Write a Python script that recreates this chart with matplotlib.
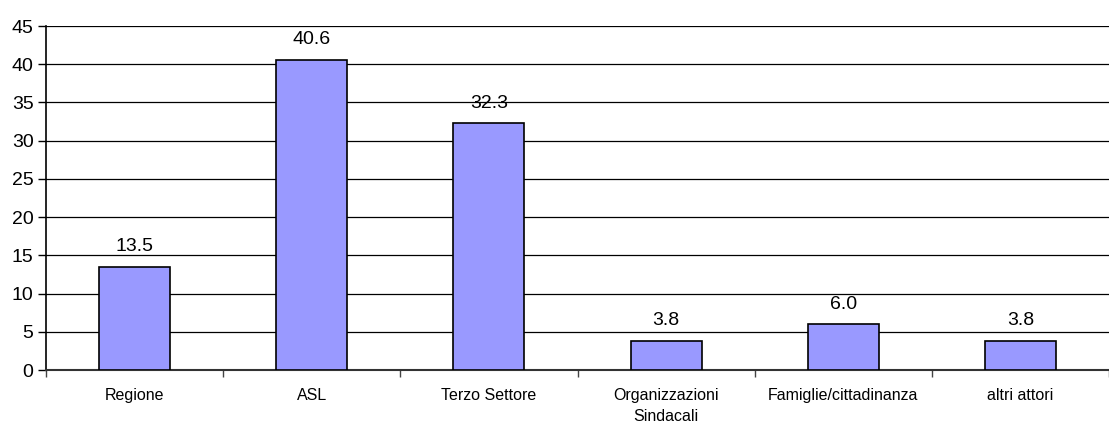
#!/usr/bin/env python3

import matplotlib.pyplot as plt
import numpy as np

plt.rcParams['font.family'] = ['Liberation Sans', 'DejaVu Sans']

categories = ['Regione', 'ASL', 'Terzo Settore', 'Organizzazioni\nSindacali',
              'Famiglie/cittadinanza', 'altri attori']
values = [13.5, 40.6, 32.3, 3.8, 6.0, 3.8]
yticks = [0, 5, 10, 15, 20, 25, 30, 35, 40, 45]

fig = plt.figure(figsize=(11.09, 4.30), dpi=100)
ax = fig.add_axes([0.0415, 0.1395, 0.9585, 0.80])

x = np.arange(len(categories))
ax.bar(x, values, width=0.4, color='#9999FF', edgecolor='black', linewidth=1.2, zorder=3)

for xi, v in zip(x, values):
    ax.text(xi, v + 1.5, f'{v:.1f}', ha='center', va='bottom', fontsize=14, zorder=4)

ax.set_ylim(0, 45)
ax.set_xlim(-0.5, 5.425)
ax.set_yticks(yticks)
ax.tick_params(axis='y', labelsize=14, length=6, width=1, direction='out', pad=3)
ax.yaxis.grid(True, color='black', linewidth=0.9, zorder=0)

# category boundaries as tick marks, labels centred between them
ax.set_xticks(np.arange(-0.5, 6.0, 1.0))
ax.set_xticklabels([])
ax.tick_params(axis='x', length=5, width=1, color='#444444', direction='out')
for xi, c in zip(x, categories):
    ax.text(xi, -2.3, c, ha='center', va='top', fontsize=11.5, linespacing=1.55,
            transform=ax.transData, clip_on=False)

for s in ['top', 'right']:
    ax.spines[s].set_visible(False)
ax.spines['left'].set_linewidth(1.2)
ax.spines['bottom'].set_linewidth(1.5)
ax.spines['bottom'].set_color('#333333')

plt.savefig('out.png', dpi=100)
